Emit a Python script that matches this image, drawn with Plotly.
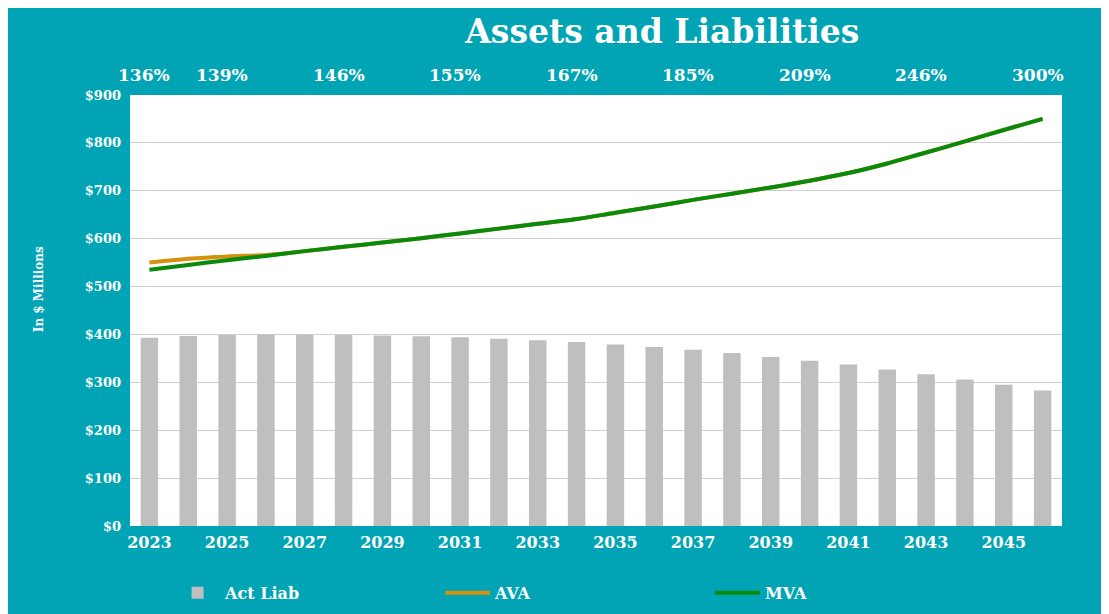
import plotly.graph_objects as go

years = list(range(2023, 2047))
act_liab = [393, 397, 399, 400, 400, 399, 398, 396, 394, 391, 388, 384,
            379, 374, 368, 361, 353, 345, 337, 327, 317, 306, 295, 283]
mva = [535, 545, 555, 564, 574, 583, 592, 601, 611, 621, 631, 641,
       654, 667, 681, 694, 707, 721, 737, 757, 780, 803, 827, 850]
ava = [550, 558, 563, 566, 574, 583, 592, 601, 611, 621, 631, 641,
       654, 667, 681, 694, 707, 721, 737, 757, 780, 803, 827, 850]
ratio_years = [2023, 2025, 2028, 2031, 2034, 2037, 2040, 2043, 2046]
ratio_labels = ["136%", "139%", "146%", "155%", "167%", "185%", "209%", "246%", "300%"]
tick_years = list(range(2023, 2047, 2))
y_ticks = list(range(0, 901, 100))

BG = "#00A4B5"
FONT = "DejaVu Serif"

fig = go.Figure()
fig.add_trace(go.Bar(x=years, y=act_liab, name="Act Liab",
                     marker=dict(color="#BFBFBF", line=dict(width=0))))
fig.add_trace(go.Scatter(x=years, y=ava, name="AVA", mode="lines",
                         line=dict(color="#D4920E", width=4, shape="spline")))
fig.add_trace(go.Scatter(x=years, y=mva, name="MVA", mode="lines",
                         line=dict(color="#0A8A0A", width=4, shape="spline")))

annotations = []
for yr, lab in zip(ratio_years, ratio_labels):
    annotations.append(dict(x=yr, xref="x", y=1.0, yref="paper", yanchor="middle",
                            yshift=20, xshift=-5,
                            text=lab, showarrow=False,
                            font=dict(family=FONT, size=17, color="white", weight="bold")))
annotations.append(dict(x=-0.107, xref="paper", y=0.55, yref="paper",
                        text="In $ Millions", textangle=-90, showarrow=False,
                        font=dict(family=FONT, size=12, color="white", weight="bold")))

fig.update_layout(
    width=1109, height=614,
    paper_bgcolor=BG, plot_bgcolor="white",
    margin=dict(l=122, r=55, t=87, b=94),
    title=dict(text="Assets and Liabilities", x=0.59, xanchor="center", y=0.962, yanchor="middle",
               font=dict(family=FONT, size=33, color="white", weight="bold")),
    bargap=0.55,
    showlegend=True,
    legend=dict(orientation="h", x=0.043, xanchor="left", y=-0.155, yanchor="middle",
                font=dict(family=FONT, size=16, color="white", weight="bold"),
                entrywidth=210, itemwidth=45, bgcolor="rgba(0,0,0,0)"),
    annotations=annotations,
    xaxis=dict(range=[2022.5, 2046.5], tickmode="array", tickvals=tick_years,
               ticktext=[str(t) for t in tick_years], showgrid=False,
               tickfont=dict(family=FONT, size=16, color="white", weight="bold"),
               ticks="", showline=False, zeroline=False, ticklabelstandoff=5),
    yaxis=dict(range=[0, 900], tickmode="array", tickvals=y_ticks,
               ticktext=["$" + str(v) for v in y_ticks],
               gridcolor="#D0D0D0", gridwidth=1, zeroline=False,
               tickfont=dict(family=FONT, size=13, color="white", weight="bold"),
               ticks="", ticklabelstandoff=8),
)

fig.write_html("out.html")
